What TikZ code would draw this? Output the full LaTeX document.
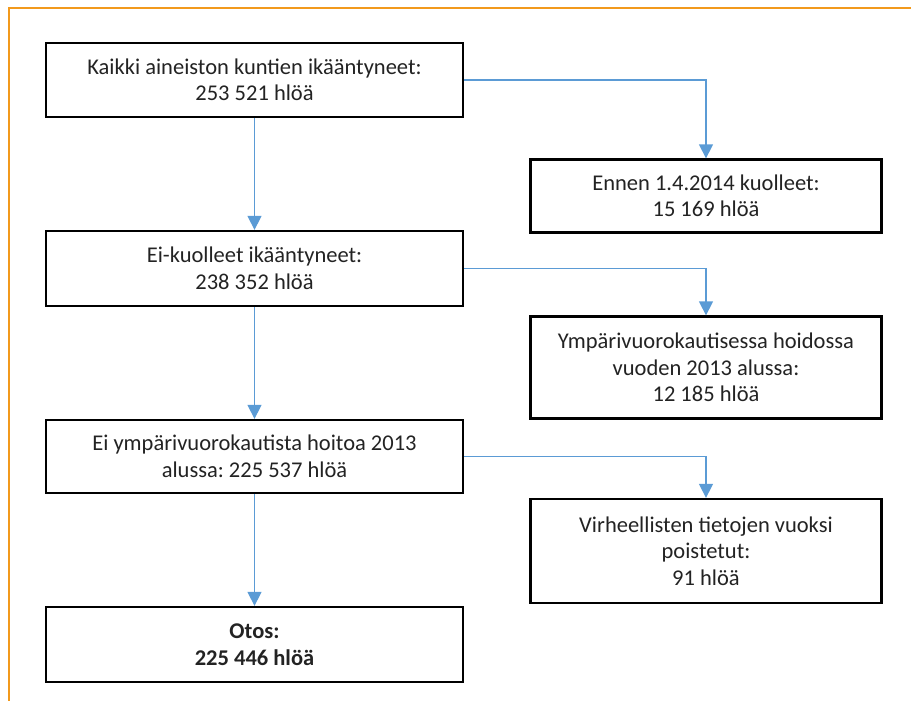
\documentclass[tikz,border=0pt]{standalone}
\usepackage{fontspec}
\setmainfont{Carlito}
\frenchspacing
\usetikzlibrary{arrows.meta}
\definecolor{arrowblue}{RGB}{91,155,213}
\definecolor{frameorange}{RGB}{242,153,28}
\definecolor{textgrey}{RGB}{35,35,35}
\begin{document}
\begin{tikzpicture}[x=1pt,y=-1pt,
  box/.style={draw=black, line width=2.3pt, fill=white, inner sep=0pt, align=center,
    font=\fontsize{22.5}{26.5}\selectfont, text=textgrey},
  leftbox/.style={box, minimum width=417pt},
  rightbox/.style={box, minimum width=351pt},
  flow/.style={draw=arrowblue, line width=1.4pt, -{Triangle[length=14pt,width=14pt]}}]
\useasboundingbox (0,0) rectangle (911,701);
\draw[frameorange, line width=1.5pt] (911,8) -- (9,8) -- (9,701);

\node[leftbox, minimum height=74pt] (b1) at (254.5,80) {Kaikki aineiston kuntien ikääntyneet:\\253 521 hlöä};
\node[leftbox, minimum height=75pt] (b2) at (254.5,268.5) {Ei-kuolleet ikääntyneet:\\238 352 hlöä};
\node[leftbox, minimum height=73pt] (b3) at (254.5,456.5) {Ei ympärivuorokautista hoitoa 2013\\alussa: 225 537 hlöä};
\node[leftbox, minimum height=75pt] (b4) at (254.5,644.5) {\textbf{Otos:}\\\textbf{225 446 hlöä}};

\node[rightbox, minimum height=73pt] (r1) at (706,196) {Ennen 1.4.2014 kuolleet:\\15 169 hlöä};
\node[rightbox, minimum height=102pt] (r2) at (706,367.5) {Ympärivuorokautisessa hoidossa\\vuoden 2013 alussa:\\12 185 hlöä};
\node[rightbox, minimum height=104pt] (r3) at (706,551) {Virheellisten tietojen vuoksi\\poistetut:\\91 hlöä};

\draw[flow] (b1.south) -- (b2.north);
\draw[flow] (b2.south) -- (b3.north);
\draw[flow] (b3.south) -- (b4.north);
\draw[flow] (b1.east) -| (r1.north);
\draw[flow] (b2.east) -| (r2.north);
\draw[flow] (b3.east) -| (r3.north);
\end{tikzpicture}
\end{document}
